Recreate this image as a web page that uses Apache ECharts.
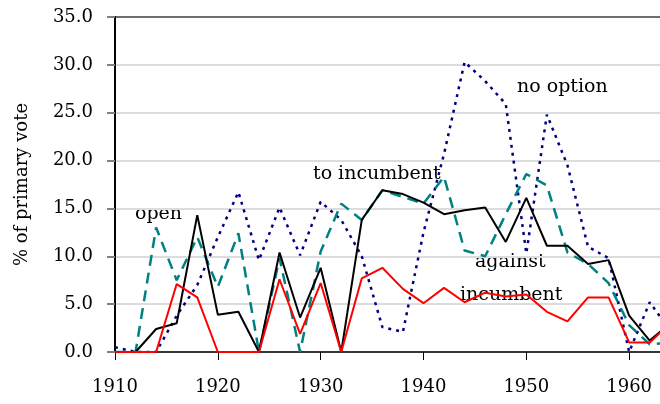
<!DOCTYPE html>
<html>
<head>
<meta charset="utf-8">
<script src="https://cdn.jsdelivr.net/npm/echarts@6/dist/echarts.min.js"></script>
<style>
  html, body { margin: 0; padding: 0; background: #fff; }
  #chart { width: 660px; height: 404px; }
</style>
</head>
<body>
<div id="chart"></div>
<script>
// election years (1964 point runs off the right edge, as in the original)
var years = [1910, 1912, 1914, 1916, 1918, 1920, 1922, 1924, 1926, 1928,
             1930, 1932, 1934, 1936, 1938, 1940, 1942, 1944, 1946, 1948,
             1950, 1952, 1954, 1956, 1958, 1960, 1962, 1964];

// % of primary vote
var noOption  = [0.5, 0, 0, 3.8, 7.0, 12.0, 16.7, 9.6, 15.1, 10.1,
                 15.7, 13.8, 10.0, 2.6, 2.1, 12.5, 20.7, 30.3, 28.3, 25.9,
                 10.3, 24.8, 19.5, 11.0, 9.8, 0, 5.2, 2.2];
var open      = [0, 0, 13.0, 7.5, 12.0, 6.8, 12.4, 0, 9.8, 0,
                 10.5, 15.5, 13.8, 16.9, 16.2, 15.5, 18.3, 10.6, 10.0, 14.4,
                 18.6, 17.4, 10.4, 9.2, 7.2, 2.8, 0.8, 1.0];
var toIncumbent = [0, 0, 2.4, 3.0, 14.3, 3.9, 4.2, 0, 10.4, 3.6,
                   8.8, 0, 13.8, 16.9, 16.5, 15.6, 14.4, 14.8, 15.1, 11.5,
                   16.1, 11.1, 11.1, 9.2, 9.6, 3.8, 1.2, 3.0];
var againstIncumbent = [0, 0, 0, 7.1, 5.7, 0, 0, 0, 7.6, 1.9,
                        7.2, 0, 7.7, 8.8, 6.6, 5.1, 6.7, 5.2, 6.2, 5.8,
                        6.0, 4.2, 3.2, 5.7, 5.7, 1.0, 1.0, 3.0];

var yTicks = [0, 5, 10, 15, 20, 25, 30, 35];

function pairs(vals) {
  var res = [];
  for (var i = 0; i < years.length; i++) res.push([years[i], vals[i]]);
  return res;
}

var serif = 'DejaVu Serif';
var noteFont = '19px "DejaVu Serif"';
var chart = echarts.init(document.getElementById('chart'));

chart.setOption({
  animation: false,
  backgroundColor: '#fff',
  grid: { left: 115, right: 0, top: 17, bottom: 52 },
  xAxis: {
    type: 'value',
    min: 1910, max: 1963, interval: 10,
    axisLine: { lineStyle: { color: '#000', width: 1.5 } },
    axisTick: { show: true, length: 8, lineStyle: { color: '#000' } },
    axisLabel: {
      margin: 26, color: '#000', fontFamily: serif, fontSize: 18,
      showMaxLabel: false,
      formatter: function (v) { return String(v); }
    },
    splitLine: { show: false }
  },
  yAxis: {
    type: 'value',
    min: yTicks[0], max: yTicks[yTicks.length - 1], interval: 5,
    name: '% of primary vote',
    nameLocation: 'middle',
    nameRotate: 90,
    nameGap: 84,
    nameTextStyle: { color: '#000', fontFamily: serif, fontSize: 18 },
    axisLine: { show: true, lineStyle: { color: '#000', width: 2 } },
    axisTick: { show: true, length: 8, lineStyle: { color: '#808080', width: 2 } },
    axisLabel: {
      margin: 22, color: '#000', fontFamily: serif, fontSize: 18,
      formatter: function (v) { return v.toFixed(1); }
    },
    splitLine: {
      lineStyle: {
        color: ['#dcdcdc', '#dcdcdc', '#dcdcdc', '#dcdcdc', '#dcdcdc', '#dcdcdc', '#dcdcdc', '#6e6e6e'],
        width: 2
      }
    }
  },
  series: [
    {
      name: 'no option', type: 'line', data: pairs(noOption),
      symbol: 'none',
      lineStyle: { color: '#000080', width: 2.5, type: [3, 5] }
    },
    {
      name: 'open', type: 'line', data: pairs(open),
      symbol: 'none',
      lineStyle: { color: '#008080', width: 2.5, type: [11, 7] }
    },
    {
      name: 'to incumbent', type: 'line', data: pairs(toIncumbent),
      symbol: 'none',
      lineStyle: { color: '#000', width: 2 }
    },
    {
      name: 'against incumbent', type: 'line', data: pairs(againstIncumbent),
      symbol: 'none',
      lineStyle: { color: '#ff0000', width: 2 }
    }
  ],
  graphic: [
    { type: 'text', left: 135, top: 205, style: { text: 'open', font: noteFont, fill: '#000' } },
    { type: 'text', left: 313, top: 165, style: { text: 'to incumbent', font: noteFont, fill: '#000' } },
    { type: 'text', left: 517, top: 78, style: { text: 'no option', font: noteFont, fill: '#000' } },
    { type: 'text', left: 475, top: 253, style: { text: 'against', font: noteFont, fill: '#000' } },
    { type: 'text', left: 460, top: 286, style: { text: 'incumbent', font: noteFont, fill: '#000' } }
  ]
});
</script>
</body>
</html>
